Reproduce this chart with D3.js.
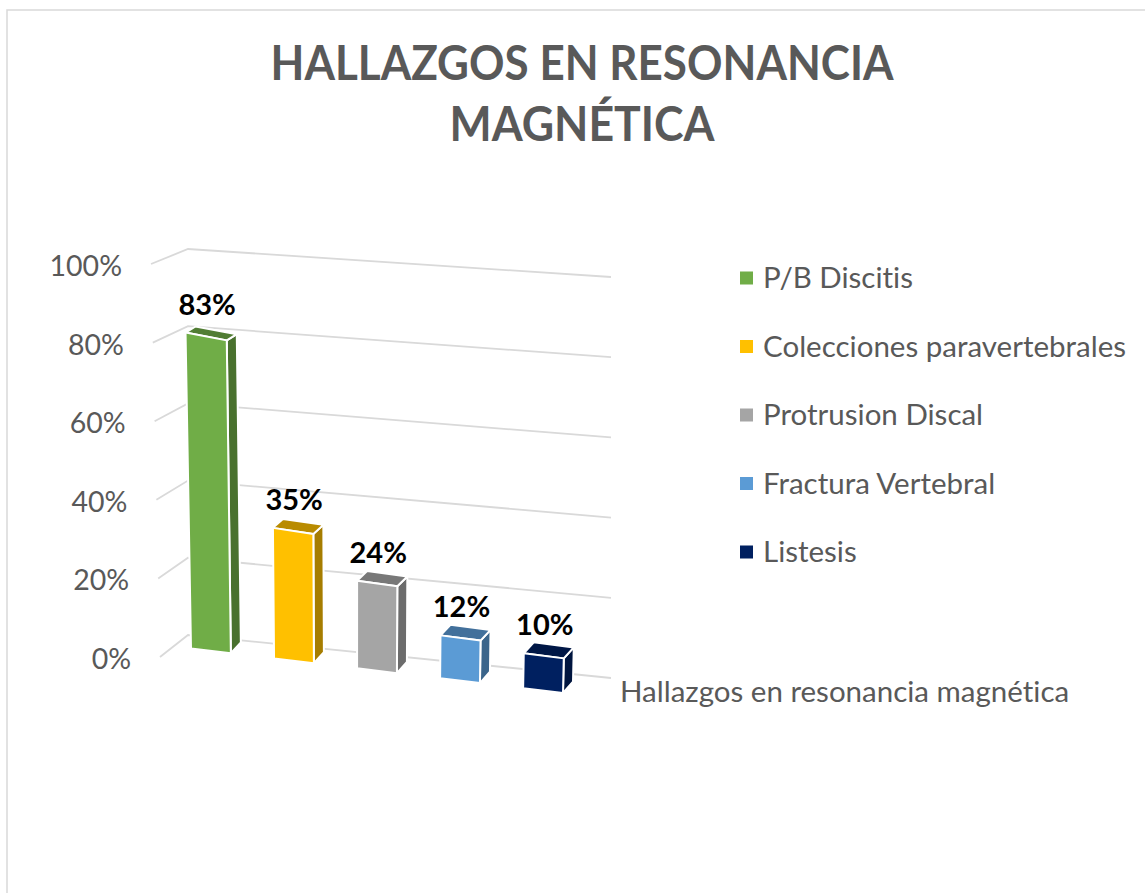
<!DOCTYPE html>
<html>
<head>
<meta charset="utf-8">
<script src="https://cdn.jsdelivr.net/npm/d3@7"></script>
<style>
  html, body { margin: 0; padding: 0; background: #fff; }
  svg { display: block; font-family: Lato, "Open Sans", sans-serif; font-variant-ligatures: none; }
</style>
</head>
<body>
<svg id="chart"></svg>
<script>
const titleLines = ['HALLAZGOS EN RESONANCIA', 'MAGNÉTICA'];
const categories = ['P/B Discitis', 'Colecciones paravertebrales', 'Protrusion Discal', 'Fractura Vertebral', 'Listesis'];
const values = [0.83, 0.35, 0.24, 0.12, 0.10];
const colors = ['#70AD47', '#FFC000', '#A5A5A5', '#5B9BD5', '#002060'];
const yTicks = [0, 0.2, 0.4, 0.6, 0.8, 1];
const axisTitle = 'Hallazgos en resonancia magnética';

const width = 1145, height = 893;
const svg = d3.select('#chart').attr('width', width).attr('height', height);
const pct = d3.format('.0%');

// chart border (only top and left edges are inside the window)
svg.append('rect')
    .attr('x', 7).attr('y', 10)
    .attr('width', width + 20).attr('height', height + 20)
    .attr('fill', '#fff').attr('stroke', '#D9D9D9').attr('stroke-width', 1.5);

// title
const title = svg.append('g').attr('fill', '#595959').attr('font-weight', 700)
    .attr('font-size', 47).attr('text-anchor', 'middle');
title.selectAll('text').data(titleLines).join('text')
    .attr('x', 582)
    .attr('y', (d, i) => 80 + i * 61)
    .attr('textLength', (d, i) => i === 0 ? 623 : 265)
    .attr('lengthAdjust', 'spacingAndGlyphs')
    .text(d => d);

// perspective walls: back wall left/right edges and side wall front edge
const wallL = d3.scaleLinear().domain([0, 1]).range([635, 249]);
const wallR = d3.scaleLinear().domain([0, 1]).range([678, 277]);
const sideX = d3.scaleLinear().domain([0, 1]).range([160, 151]);
const sideY = d3.scaleLinear().domain([0, 1]).range([657, 264]);
const wallX0 = 188, wallX1 = 611;

svg.append('g').selectAll('polyline').data(yTicks).join('polyline')
    .attr('points', v => [[sideX(v), sideY(v)], [wallX0, wallL(v)], [wallX1, wallR(v)]].join(' '))
    .attr('fill', 'none').attr('stroke', '#D9D9D9').attr('stroke-width', 1.8);

svg.append('g').attr('fill', '#595959').attr('font-size', 28.5).attr('text-anchor', 'end')
    .selectAll('text').data(yTicks).join('text')
    .attr('x', v => sideX(v) - 29)
    .attr('y', v => sideY(v) + 2)
    .attr('dy', '0.35em')
    .text(v => pct(v));

// bars on the front plane
const x = d3.scaleBand().domain(categories).range([191, 563]).paddingInner(0.52);
const baseY = d3.scaleLinear().domain([187, 563]).range([648, 693]);
const unitH = d3.scaleLinear().domain([187, 523]).range([381, 350]);

function front(px, v) {
    const h = unitH(px) * v;
    return [px + (px - 354) * 0.000106 * h, baseY(px) - h];
}
function back(p) {
    return [p[0] + 10, p[1] - (6 + (p[1] - 330) * 0.015)];
}

const bars = svg.append('g').selectAll('g').data(categories).join('g');
bars.each(function (c, i) {
    const g = d3.select(this);
    const x0 = x(c), x1 = x0 + x.bandwidth(), v = values[i];
    const bl = front(x0, 0), br = front(x1, 0), tl = front(x0, v), tr = front(x1, v);
    const base = d3.color(colors[i]);
    const faces = [
        { pts: [br, tr, back(tr), back(br)], fill: base.darker(1.2) },
        { pts: [tl, tr, back(tr), back(tl)], fill: base.darker(0.9) },
        { pts: [bl, br, tr, tl], fill: base }
    ];
    g.selectAll('polygon').data(faces).join('polygon')
        .attr('points', f => f.pts.join(' '))
        .attr('fill', f => f.fill)
        .attr('stroke', '#fff').attr('stroke-width', 2).attr('stroke-linejoin', 'round');
    g.append('text')
        .attr('x', (tl[0] + tr[0]) / 2 + 1)
        .attr('y', (tl[1] + tr[1]) / 2 - 21)
        .attr('text-anchor', 'middle')
        .attr('font-size', 29).attr('font-weight', 700).attr('fill', '#000')
        .text(pct(v));
});

// category axis title
svg.append('text')
    .attr('x', 620).attr('y', 692).attr('dy', '0.35em')
    .attr('font-size', 29.5).attr('fill', '#595959')
    .text(axisTitle);

// legend
const legend = svg.append('g').selectAll('g').data(categories).join('g')
    .attr('transform', (d, i) => `translate(740,${278 + i * 68.5})`);
legend.append('rect')
    .attr('x', 0).attr('y', -6.5).attr('width', 13).attr('height', 13)
    .attr('fill', (d, i) => colors[i]);
legend.append('text')
    .attr('x', 23).attr('dy', '0.35em')
    .attr('font-size', 29.5).attr('fill', '#595959')
    .text(d => d);
</script>
</body>
</html>
